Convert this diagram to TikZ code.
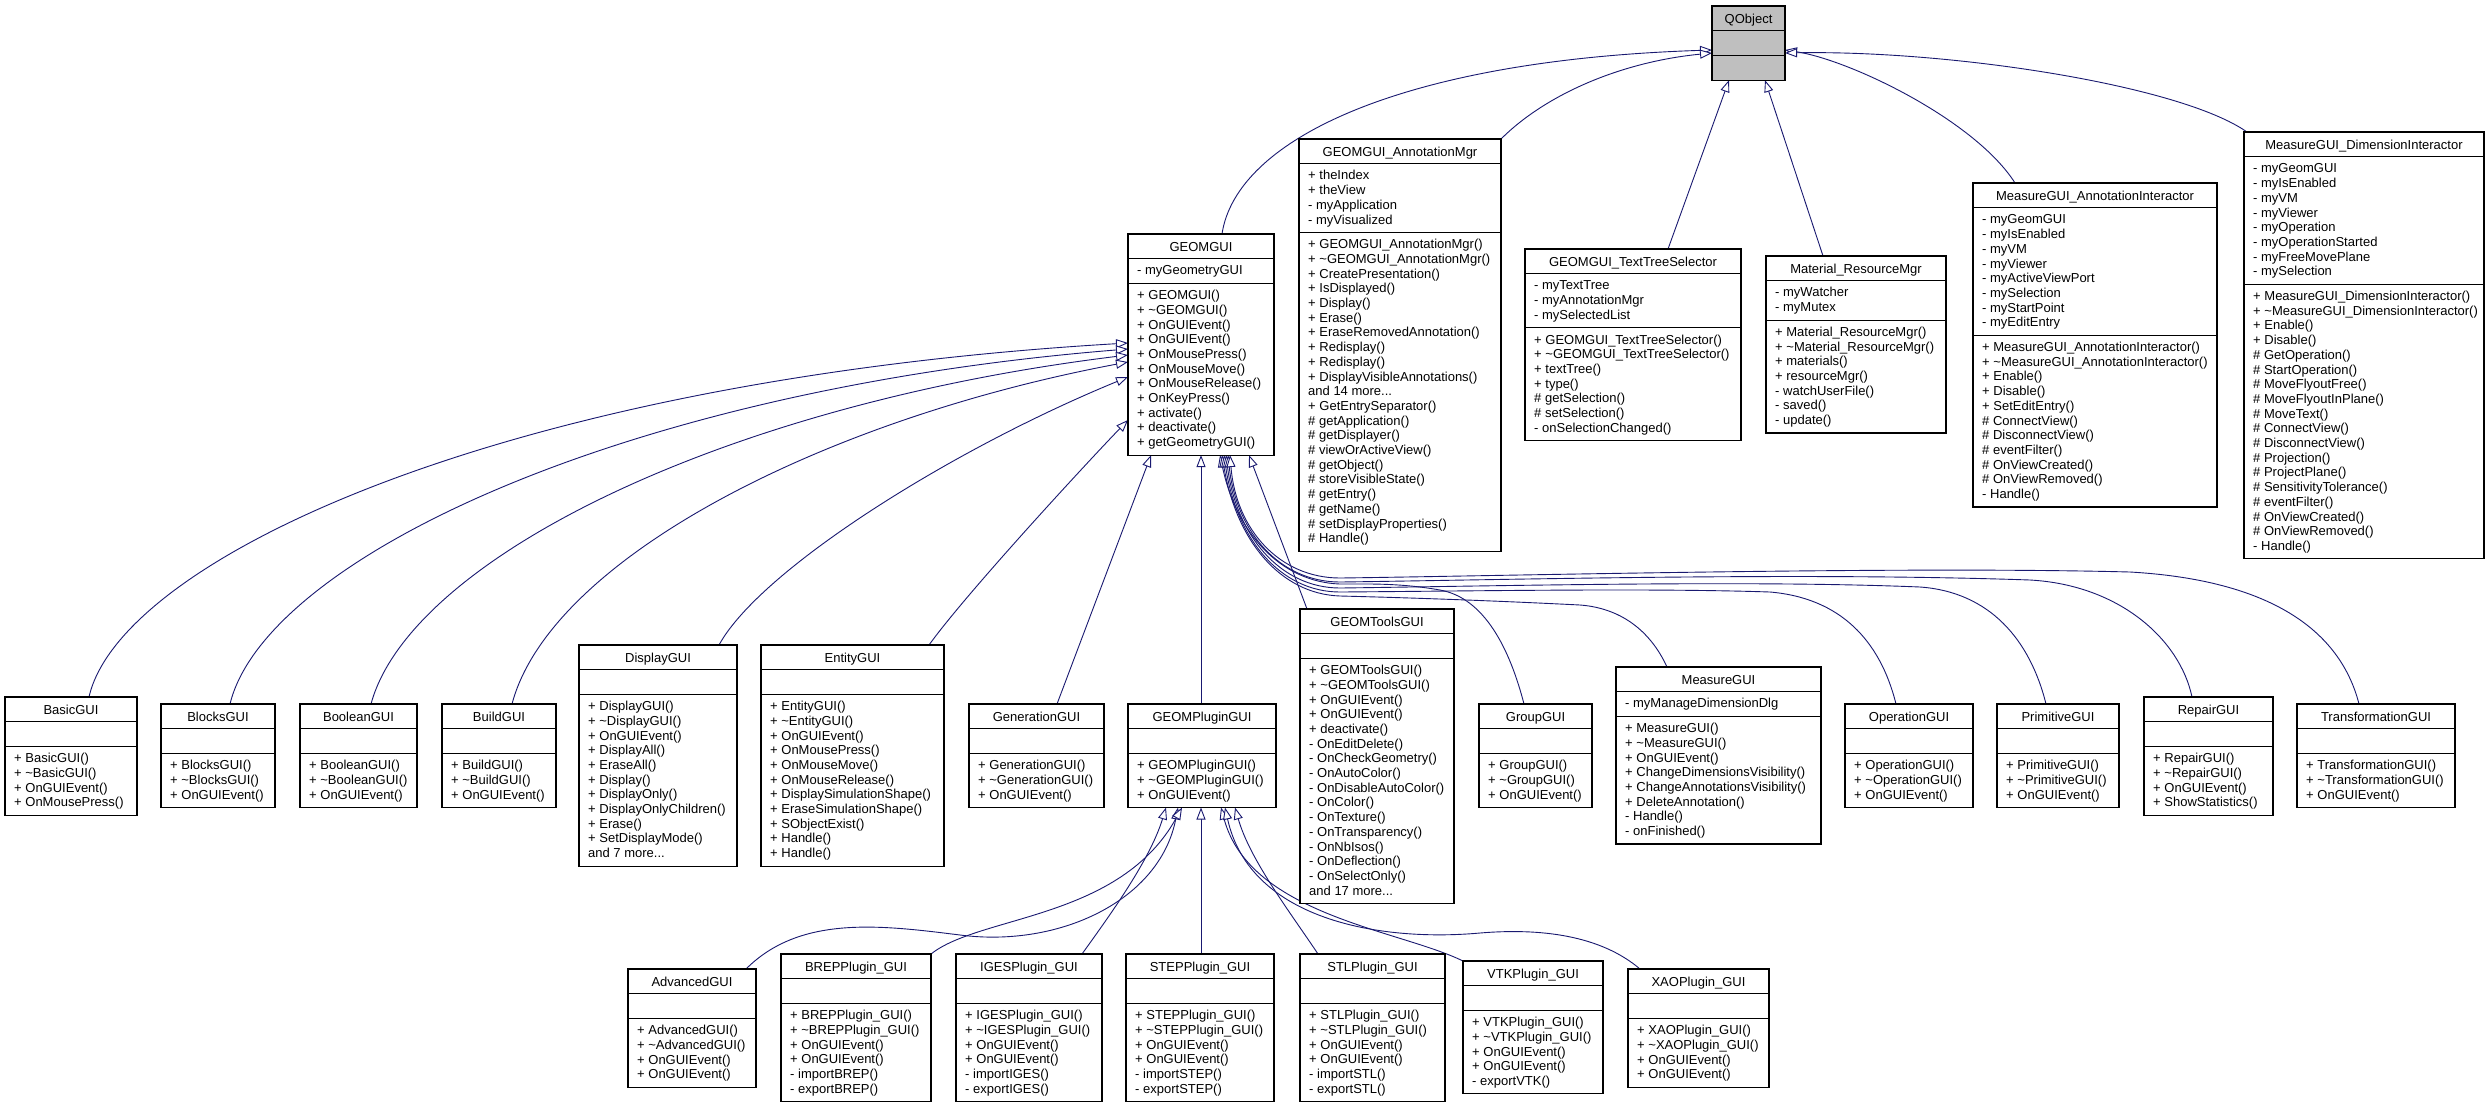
\documentclass[tikz,border=0pt]{standalone}
\usepackage{fontspec}
\setmainfont{Liberation Sans}
\usetikzlibrary{arrows.meta,calc}
\definecolor{navyc}{HTML}{191970}
\definecolor{qgray}{HTML}{BFBFBF}
\pgfdeclarelayer{back}
\pgfdeclarelayer{conn}
\pgfsetlayers{back,conn,main}
\newcommand\umlfont{\fontsize{13}{14.7}\selectfont\lineskiplimit=-30pt\relax}
\newcommand\umlst{\rule[-3.7pt]{0pt}{14.7pt}}
\newcommand\tld{\char"7E\relax}
\tikzset{
  classbox/.style={draw=black,line width=1.1pt,fill=white,inner sep=0pt,outer sep=0pt,rectangle},
  classline/.style={draw=black,line width=1.1pt},
  titletext/.style={anchor=base,inner sep=0pt,font=\umlfont},
  membertext/.style={anchor=north west,inner sep=0pt,align=left,font=\umlfont},
  inh/.style={draw=navyc,line width=0.9pt,-{Triangle[length=12pt,width=9pt,fill=white]}},
}
% #1 name #2 x #3 y #4 w #5 title #6 nattr #7 attrs #8 nmeth #9 methods
\newcommand\umlclass[9]{%
  \pgfmathsetmacro\umlhA{ifthenelse(#6==0,24.7,#6*14.7+10)}%
  \pgfmathsetmacro\umlhM{ifthenelse(#8==0,24.7,#8*14.7+10)}%
  \pgfmathsetmacro\umlhT{24.7+\umlhA+\umlhM}%
  \node[classbox,minimum width=#4pt,minimum height=\umlhT pt,anchor=north west] (#1) at (#2,#3) {};
  \draw[classline] (#2,#3+24.7) -- ++(#4,0);
  \draw[classline] (#2,#3+24.7+\umlhA) -- ++(#4,0);
  \node[titletext] (#1-t) at (#2+#4/2,#3+17) {#5};
  \ifnum#6>0\relax \node[membertext] (#1-a) at (#2+9,#3+29.7) {\umlst#7};\fi
  \ifnum#8>0\relax \node[membertext] (#1-m) at (#2+9,#3+29.7+\umlhA) {\umlst#9};\fi
}
\begin{document}
\begin{tikzpicture}[x=1pt,y=-1pt]
\begin{pgfonlayer}{back}
\fill[white] (0,0) rectangle (2489,1109);
\end{pgfonlayer}
\useasboundingbox (0,0) rectangle (2489,1109);

\begin{scope}[classbox/.append style={fill=qgray}]
\umlclass{QObject}{1712}{6}{73}{QObject}{0}{}{0}{}
\end{scope}

\umlclass{GEOMGUI}{1128}{234}{146}{GEOMGUI}{1}{- myGeometryGUI}{11}{+ GEOMGUI()\\+ \tld GEOMGUI()\\+ OnGUIEvent()\\+ OnGUIEvent()\\+ OnMousePress()\\+ OnMouseMove()\\+ OnMouseRelease()\\+ OnKeyPress()\\+ activate()\\+ deactivate()\\+ getGeometryGUI()}

\umlclass{AnnMgr}{1299}{139}{202}{GEOMGUI\_AnnotationMgr}{4}{+ theIndex\\+ theView\\- myApplication\\- myVisualized}{21}{+ GEOMGUI\_AnnotationMgr()\\+ \tld GEOMGUI\_AnnotationMgr()\\+ CreatePresentation()\\+ IsDisplayed()\\+ Display()\\+ Erase()\\+ EraseRemovedAnnotation()\\+ Redisplay()\\+ Redisplay()\\+ DisplayVisibleAnnotations()\\and 14 more...\\+ GetEntrySeparator()\\\# getApplication()\\\# getDisplayer()\\\# viewOrActiveView()\\\# getObject()\\\# storeVisibleState()\\\# getEntry()\\\# getName()\\\# setDisplayProperties()\\\# Handle()}

\umlclass{TTSel}{1525}{249}{216}{GEOMGUI\_TextTreeSelector}{3}{- myTextTree\\- myAnnotationMgr\\- mySelectedList}{7}{+ GEOMGUI\_TextTreeSelector()\\+ \tld GEOMGUI\_TextTreeSelector()\\+ textTree()\\+ type()\\\# getSelection()\\\# setSelection()\\- onSelectionChanged()}

\umlclass{MatRes}{1766}{256}{180}{Material\_ResourceMgr}{2}{- myWatcher\\- myMutex}{7}{+ Material\_ResourceMgr()\\+ \tld Material\_ResourceMgr()\\+ materials()\\+ resourceMgr()\\- watchUserFile()\\- saved()\\- update()}

\umlclass{AnnInt}{1973}{183}{244}{MeasureGUI\_AnnotationInteractor}{8}{- myGeomGUI\\- myIsEnabled\\- myVM\\- myViewer\\- myActiveViewPort\\- mySelection\\- myStartPoint\\- myEditEntry}{11}{+ MeasureGUI\_AnnotationInteractor()\\+ \tld MeasureGUI\_AnnotationInteractor()\\+ Enable()\\+ Disable()\\+ SetEditEntry()\\\# ConnectView()\\\# DisconnectView()\\\# eventFilter()\\\# OnViewCreated()\\\# OnViewRemoved()\\- Handle()}

\umlclass{DimInt}{2244}{132}{240}{MeasureGUI\_DimensionInteractor}{8}{- myGeomGUI\\- myIsEnabled\\- myVM\\- myViewer\\- myOperation\\- myOperationStarted\\- myFreeMovePlane\\- mySelection}{18}{+ MeasureGUI\_DimensionInteractor()\\+ \tld MeasureGUI\_DimensionInteractor()\\+ Enable()\\+ Disable()\\\# GetOperation()\\\# StartOperation()\\\# MoveFlyoutFree()\\\# MoveFlyoutInPlane()\\\# MoveText()\\\# ConnectView()\\\# DisconnectView()\\\# Projection()\\\# ProjectPlane()\\\# SensitivityTolerance()\\\# eventFilter()\\\# OnViewCreated()\\\# OnViewRemoved()\\- Handle()}

\umlclass{BasicGUI}{5}{697}{132}{BasicGUI}{0}{}{4}{+ BasicGUI()\\+ \tld BasicGUI()\\+ OnGUIEvent()\\+ OnMousePress()}
\umlclass{BlocksGUI}{161}{704}{114}{BlocksGUI}{0}{}{3}{+ BlocksGUI()\\+ \tld BlocksGUI()\\+ OnGUIEvent()}
\umlclass{BooleanGUI}{300}{704}{117}{BooleanGUI}{0}{}{3}{+ BooleanGUI()\\+ \tld BooleanGUI()\\+ OnGUIEvent()}
\umlclass{BuildGUI}{442}{704}{114}{BuildGUI}{0}{}{3}{+ BuildGUI()\\+ \tld BuildGUI()\\+ OnGUIEvent()}
\umlclass{DisplayGUI}{579}{645}{158}{DisplayGUI}{0}{}{11}{+ DisplayGUI()\\+ \tld DisplayGUI()\\+ OnGUIEvent()\\+ DisplayAll()\\+ EraseAll()\\+ Display()\\+ DisplayOnly()\\+ DisplayOnlyChildren()\\+ Erase()\\+ SetDisplayMode()\\and 7 more...}
\umlclass{EntityGUI}{761}{645}{183}{EntityGUI}{0}{}{11}{+ EntityGUI()\\+ \tld EntityGUI()\\+ OnGUIEvent()\\+ OnMousePress()\\+ OnMouseMove()\\+ OnMouseRelease()\\+ DisplaySimulationShape()\\+ EraseSimulationShape()\\+ SObjectExist()\\+ Handle()\\+ Handle()}
\umlclass{GenerationGUI}{969}{704}{135}{GenerationGUI}{0}{}{3}{+ GenerationGUI()\\+ \tld GenerationGUI()\\+ OnGUIEvent()}
\umlclass{PluginGUI}{1128}{704}{148}{GEOMPluginGUI}{0}{}{3}{+ GEOMPluginGUI()\\+ \tld GEOMPluginGUI()\\+ OnGUIEvent()}
\umlclass{ToolsGUI}{1300}{609}{154}{GEOMToolsGUI}{0}{}{16}{+ GEOMToolsGUI()\\+ \tld GEOMToolsGUI()\\+ OnGUIEvent()\\+ OnGUIEvent()\\+ deactivate()\\- OnEditDelete()\\- OnCheckGeometry()\\- OnAutoColor()\\- OnDisableAutoColor()\\- OnColor()\\- OnTexture()\\- OnTransparency()\\- OnNbIsos()\\- OnDeflection()\\- OnSelectOnly()\\and 17 more...}
\umlclass{GroupGUI}{1479}{704}{113}{GroupGUI}{0}{}{3}{+ GroupGUI()\\+ \tld GroupGUI()\\+ OnGUIEvent()}
\umlclass{MeasureGUI}{1616}{667}{205}{MeasureGUI}{1}{- myManageDimensionDlg}{8}{+ MeasureGUI()\\+ \tld MeasureGUI()\\+ OnGUIEvent()\\+ ChangeDimensionsVisibility()\\+ ChangeAnnotationsVisibility()\\+ DeleteAnnotation()\\- Handle()\\- onFinished()}
\umlclass{OperationGUI}{1845}{704}{128}{OperationGUI}{0}{}{3}{+ OperationGUI()\\+ \tld OperationGUI()\\+ OnGUIEvent()}
\umlclass{PrimitiveGUI}{1997}{704}{122}{PrimitiveGUI}{0}{}{3}{+ PrimitiveGUI()\\+ \tld PrimitiveGUI()\\+ OnGUIEvent()}
\umlclass{RepairGUI}{2144}{697}{129}{RepairGUI}{0}{}{4}{+ RepairGUI()\\+ \tld RepairGUI()\\+ OnGUIEvent()\\+ ShowStatistics()}
\umlclass{TransfGUI}{2297}{704}{158}{TransformationGUI}{0}{}{3}{+ TransformationGUI()\\+ \tld TransformationGUI()\\+ OnGUIEvent()}

\umlclass{AdvancedGUI}{628}{969}{128}{AdvancedGUI}{0}{}{4}{+ AdvancedGUI()\\+ \tld AdvancedGUI()\\+ OnGUIEvent()\\+ OnGUIEvent()}
\umlclass{BREP}{781}{954}{150}{BREPPlugin\_GUI}{0}{}{6}{+ BREPPlugin\_GUI()\\+ \tld BREPPlugin\_GUI()\\+ OnGUIEvent()\\+ OnGUIEvent()\\- importBREP()\\- exportBREP()}
\umlclass{IGES}{956}{954}{146}{IGESPlugin\_GUI}{0}{}{6}{+ IGESPlugin\_GUI()\\+ \tld IGESPlugin\_GUI()\\+ OnGUIEvent()\\+ OnGUIEvent()\\- importIGES()\\- exportIGES()}
\umlclass{STEP}{1126}{954}{148}{STEPPlugin\_GUI}{0}{}{6}{+ STEPPlugin\_GUI()\\+ \tld STEPPlugin\_GUI()\\+ OnGUIEvent()\\+ OnGUIEvent()\\- importSTEP()\\- exportSTEP()}
\umlclass{STL}{1300}{954}{145}{STLPlugin\_GUI}{0}{}{6}{+ STLPlugin\_GUI()\\+ \tld STLPlugin\_GUI()\\+ OnGUIEvent()\\+ OnGUIEvent()\\- importSTL()\\- exportSTL()}
\umlclass{VTK}{1463}{961}{140}{VTKPlugin\_GUI}{0}{}{5}{+ VTKPlugin\_GUI()\\+ \tld VTKPlugin\_GUI()\\+ OnGUIEvent()\\+ OnGUIEvent()\\- exportVTK()}
\umlclass{XAO}{1628}{969}{141}{XAOPlugin\_GUI}{0}{}{4}{+ XAOPlugin\_GUI()\\+ \tld XAOPlugin\_GUI()\\+ OnGUIEvent()\\+ OnGUIEvent()}

\begin{pgfonlayer}{conn}
% to QObject
\draw[inh] ($(GEOMGUI.north west)+(94,0)$) .. controls (1236,140) and (1400,60) .. ($(QObject.north west)+(0,44)$);
\draw[inh] (AnnMgr.north east) .. controls (1545,95) and (1620,62) .. ($(QObject.north west)+(0,47)$);
\draw[inh] ($(TTSel.north west)+(143,0)$) -- ($(QObject.south west)+(17,0)$);
\draw[inh] ($(MatRes.north west)+(57,0)$) -- ($(QObject.south east)+(-20,0)$);
\draw[inh] ($(AnnInt.north west)+(42,0)$) .. controls (1975,120) and (1850,60) .. ($(QObject.north east)+(0,44)$);
\draw[inh] ($(DimInt.north west)+(3,0)$) .. controls (2180,85) and (1950,50) .. ($(QObject.north east)+(0,47)$);
% to GEOMGUI left side
\draw[inh] ($(BasicGUI.north west)+(84,0)$) .. controls (120,560) and (500,380) .. ($(GEOMGUI.north west)+(0,109)$);
\draw[inh] ($(BlocksGUI.north west)+(69,0)$) .. controls (265,560) and (620,390) .. ($(GEOMGUI.north west)+(0,115)$);
\draw[inh] ($(BooleanGUI.north west)+(71,0)$) .. controls (410,560) and (720,405) .. ($(GEOMGUI.north west)+(0,121)$);
\draw[inh] ($(BuildGUI.north west)+(70,0)$) .. controls (550,560) and (820,420) .. ($(GEOMGUI.north west)+(0,128)$);
\draw[inh] ($(DisplayGUI.north west)+(140,0)$) .. controls (760,570) and (950,450) .. ($(GEOMGUI.north west)+(0,143)$);
\draw[inh] ($(EntityGUI.north west)+(168,0)$) .. controls (965,595) and (1080,470) .. ($(GEOMGUI.north west)+(0,186)$);
% to GEOMGUI bottom
\draw[inh] ($(GenerationGUI.north west)+(88,0)$) -- ($(GEOMGUI.south west)+(23,0)$);
\draw[inh] ($(PluginGUI.north west)+(73,0)$) -- ($(GEOMGUI.south west)+(73,0)$);
\draw[inh] ($(ToolsGUI.north west)+(7,0)$) -- ($(GEOMGUI.south west)+(121,0)$);
\draw[inh] ($(GroupGUI.north west)+(45,0)$) .. controls (1510,650) and (1485,598) .. (1440,590) .. controls (1400,583) and (1370,584) .. (1340,584) .. controls (1280,582) and (1236,532) .. ($(GEOMGUI.south west)+(92,0)$);
\draw[inh] ($(MeasureGUI.north west)+(51,0)$) .. controls (1650,630) and (1620,608) .. (1580,605) .. controls (1500,601) and (1420,598) .. (1340,596) .. controls (1280,594) and (1236,540) .. ($(GEOMGUI.south west)+(94,0)$);
\draw[inh] ($(OperationGUI.north west)+(51,0)$) .. controls (1880,640) and (1840,598) .. (1770,592) .. controls (1650,588) and (1480,591) .. (1340,592) .. controls (1280,592) and (1236,538) .. ($(GEOMGUI.south west)+(96,0)$);
\draw[inh] ($(PrimitiveGUI.north west)+(49,0)$) .. controls (2030,640) and (1990,592) .. (1920,587) .. controls (1750,580) and (1500,586) .. (1340,588) .. controls (1280,588) and (1236,535) .. ($(GEOMGUI.south west)+(98,0)$);
\draw[inh] ($(RepairGUI.north west)+(48,0)$) .. controls (2180,640) and (2120,585) .. (2030,580) .. controls (1800,572) and (1500,580) .. (1340,582) .. controls (1280,582) and (1236,532) .. ($(GEOMGUI.south west)+(100,0)$);
\draw[inh] ($(TransfGUI.north west)+(62,0)$) .. controls (2340,630) and (2270,580) .. (2130,572) .. controls (1900,566) and (1500,576) .. (1340,578) .. controls (1280,578) and (1236,530) .. ($(GEOMGUI.south west)+(102,0)$);
% to GEOMPluginGUI
\draw[inh] ($(STEP.north west)+(75,0)$) -- ($(PluginGUI.south west)+(73,0)$);
\draw[inh] ($(IGES.north west)+(126,0)$) .. controls (1110,915) and (1150,860) .. ($(PluginGUI.south west)+(38,0)$);
\draw[inh] ($(STL.north west)+(18,0)$) .. controls (1290,912) and (1250,860) .. ($(PluginGUI.south west)+(107,0)$);
\draw[inh] ($(AdvancedGUI.north west)+(118,0)$) .. controls (800,915) and (880,925) .. (960,935) .. controls (1060,948) and (1160,900) .. ($(PluginGUI.south west)+(50,0)$);
\draw[inh] (BREP.north east) .. controls (980,915) and (1120,920) .. ($(PluginGUI.south west)+(54,0)$);
\draw[inh] (VTK.north west) .. controls (1400,930) and (1250,915) .. ($(PluginGUI.south west)+(93,0)$);
\draw[inh] ($(XAO.north west)+(12,0)$) .. controls (1600,935) and (1540,928) .. (1480,933) .. controls (1380,942) and (1250,920) .. ($(PluginGUI.south west)+(97,0)$);
\end{pgfonlayer}
\end{tikzpicture}
\end{document}
